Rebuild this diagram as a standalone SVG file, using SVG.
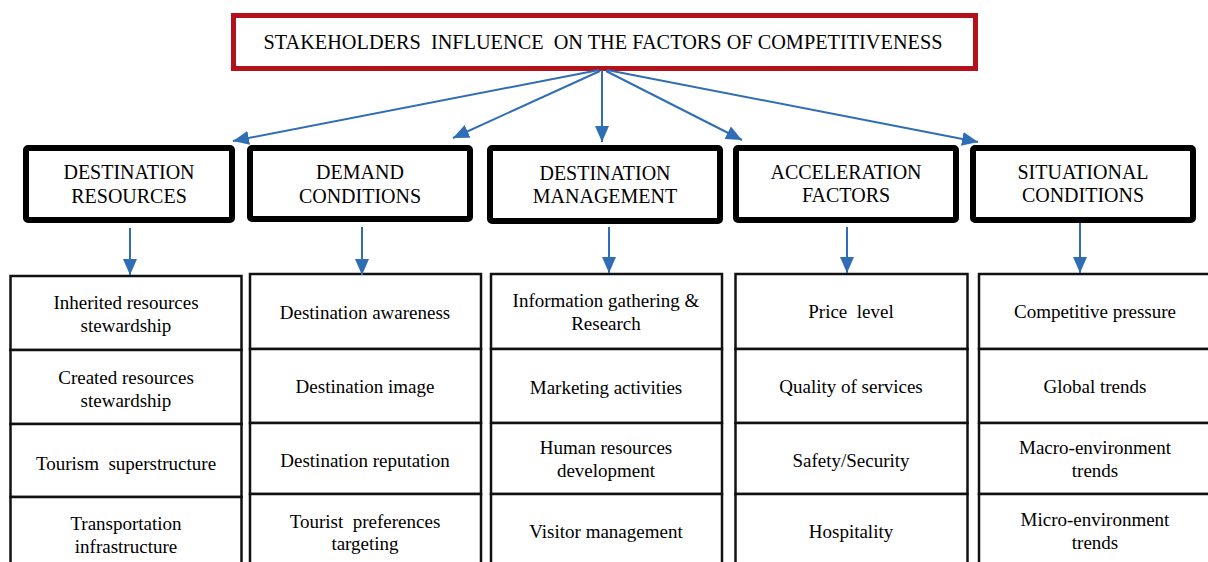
<svg xmlns="http://www.w3.org/2000/svg" width="1208" height="562" viewBox="0 0 1208 562" font-family="'Liberation Serif', 'DejaVu Serif', serif">
  <defs>
    <marker id="head" markerUnits="userSpaceOnUse" markerWidth="16" markerHeight="16" viewBox="0 0 16 16" refX="16" refY="8" orient="auto">
      <path d="M0,1 L16,8 L0,15 Z" fill="#2f6db5"/>
    </marker>
    <style>
      .title { fill: #fff; stroke: #b3121a; stroke-width: 5; }
      .hdr { fill: #fff; stroke: #000; stroke-width: 6; }
      .cell { fill: #fff; stroke: #111; stroke-width: 2.5; }
      .link { fill: none; stroke: #2f6db5; stroke-width: 2; marker-end: url(#head); }
      text { font-family: 'Liberation Serif', 'DejaVu Serif', serif; fill: #000; text-anchor: middle; }
      .t0 { font-size: 20px; }
      .th { font-size: 20px; }
      .tc { font-size: 19px; }
    </style>
  </defs>
  <rect width="1208" height="562" fill="#fff"/>

  <!-- root -->
  <g id="root">
    <rect class="title" x="233.5" y="15.5" width="742" height="53"/>
    <text class="t0" x="603" y="49" textLength="679" lengthAdjust="spacingAndGlyphs" xml:space="preserve">STAKEHOLDERS  INFLUENCE  ON THE FACTORS OF COMPETITIVENESS</text>
  </g>

  <!-- category headers -->
  <g id="hdr-resources">
    <rect class="hdr" x="26" y="148" width="206" height="72" rx="2"/>
    <text class="th" x="129" y="179">DESTINATION</text>
    <text class="th" x="129" y="203">RESOURCES</text>
  </g>
  <g id="hdr-demand">
    <rect class="hdr" x="250" y="148" width="220" height="71" rx="2"/>
    <text class="th" x="360" y="179">DEMAND</text>
    <text class="th" x="360" y="203">CONDITIONS</text>
  </g>
  <g id="hdr-management">
    <rect class="hdr" x="490" y="148" width="230" height="73" rx="2"/>
    <text class="th" x="605" y="180">DESTINATION</text>
    <text class="th" x="605" y="203">MANAGEMENT</text>
  </g>
  <g id="hdr-acceleration">
    <rect class="hdr" x="736" y="148" width="220" height="72" rx="2"/>
    <text class="th" x="846" y="179">ACCELERATION</text>
    <text class="th" x="846" y="202">FACTORS</text>
  </g>
  <g id="hdr-situational">
    <rect class="hdr" x="973" y="148" width="220" height="72" rx="2"/>
    <text class="th" x="1083" y="179">SITUATIONAL</text>
    <text class="th" x="1083" y="202">CONDITIONS</text>
  </g>

  <!-- column 1 -->
  <g id="c1-inherited">
    <rect class="cell" x="10.5" y="276" width="231" height="74"/>
    <text class="tc" x="126" y="309">Inherited resources</text>
    <text class="tc" x="126" y="332">stewardship</text>
  </g>
  <g id="c1-created">
    <rect class="cell" x="10.5" y="350" width="231" height="74"/>
    <text class="tc" x="126" y="384">Created resources</text>
    <text class="tc" x="126" y="407">stewardship</text>
  </g>
  <g id="c1-superstructure">
    <rect class="cell" x="10.5" y="424" width="231" height="73"/>
    <text class="tc" x="126" y="470" xml:space="preserve">Tourism  superstructure</text>
  </g>
  <g id="c1-transport">
    <rect class="cell" x="10.5" y="497" width="231" height="74"/>
    <text class="tc" x="126" y="530">Transportation</text>
    <text class="tc" x="126" y="553">infrastructure</text>
  </g>

  <!-- column 2 -->
  <g id="c2-awareness">
    <rect class="cell" x="250" y="274" width="231" height="75"/>
    <text class="tc" x="365" y="319">Destination awareness</text>
  </g>
  <g id="c2-image">
    <rect class="cell" x="250" y="349" width="231" height="74"/>
    <text class="tc" x="365" y="393">Destination image</text>
  </g>
  <g id="c2-reputation">
    <rect class="cell" x="250" y="423" width="231" height="71"/>
    <text class="tc" x="365" y="467">Destination reputation</text>
  </g>
  <g id="c2-preferences">
    <rect class="cell" x="250" y="494" width="231" height="77"/>
    <text class="tc" x="365" y="528" xml:space="preserve">Tourist  preferences</text>
    <text class="tc" x="365" y="550">targeting</text>
  </g>

  <!-- column 3 -->
  <g id="c3-research">
    <rect class="cell" x="491" y="274" width="231" height="75"/>
    <text class="tc" x="606" y="307">Information gathering &amp;</text>
    <text class="tc" x="606" y="330">Research</text>
  </g>
  <g id="c3-marketing">
    <rect class="cell" x="491" y="349" width="231" height="74"/>
    <text class="tc" x="606" y="394">Marketing activities</text>
  </g>
  <g id="c3-hr">
    <rect class="cell" x="491" y="423" width="231" height="71"/>
    <text class="tc" x="606" y="454">Human resources</text>
    <text class="tc" x="606" y="477">development</text>
  </g>
  <g id="c3-visitor">
    <rect class="cell" x="491" y="494" width="231" height="77"/>
    <text class="tc" x="606" y="538">Visitor management</text>
  </g>

  <!-- column 4 -->
  <g id="c4-price">
    <rect class="cell" x="735.5" y="274" width="232" height="75"/>
    <text class="tc" x="851" y="318" xml:space="preserve">Price  level</text>
  </g>
  <g id="c4-quality">
    <rect class="cell" x="735.5" y="349" width="232" height="74"/>
    <text class="tc" x="851" y="393">Quality of services</text>
  </g>
  <g id="c4-safety">
    <rect class="cell" x="735.5" y="423" width="232" height="71"/>
    <text class="tc" x="851" y="467">Safety/Security</text>
  </g>
  <g id="c4-hospitality">
    <rect class="cell" x="735.5" y="494" width="232" height="77"/>
    <text class="tc" x="851" y="538">Hospitality</text>
  </g>

  <!-- column 5 -->
  <g id="c5-pressure">
    <rect class="cell" x="979" y="274" width="236" height="75"/>
    <text class="tc" x="1095" y="318">Competitive pressure</text>
  </g>
  <g id="c5-global">
    <rect class="cell" x="979" y="349" width="236" height="74"/>
    <text class="tc" x="1095" y="393">Global trends</text>
  </g>
  <g id="c5-macro">
    <rect class="cell" x="979" y="423" width="236" height="71"/>
    <text class="tc" x="1095" y="454">Macro-environment</text>
    <text class="tc" x="1095" y="477">trends</text>
  </g>
  <g id="c5-micro">
    <rect class="cell" x="979" y="494" width="236" height="77"/>
    <text class="tc" x="1095" y="526">Micro-environment</text>
    <text class="tc" x="1095" y="549">trends</text>
  </g>

  <!-- connectors -->
  <g id="connectors">
    <line class="link" x1="599" y1="70" x2="233" y2="141"/>
    <line class="link" x1="600" y1="71" x2="453" y2="138"/>
    <line class="link" x1="602" y1="70" x2="602" y2="142"/>
    <line class="link" x1="606" y1="71" x2="742" y2="140"/>
    <line class="link" x1="607" y1="70" x2="978" y2="142"/>
    <line class="link" x1="130" y1="228" x2="130" y2="275"/>
    <line class="link" x1="362" y1="227" x2="362" y2="275"/>
    <line class="link" x1="609" y1="227" x2="609" y2="273"/>
    <line class="link" x1="847" y1="227" x2="847" y2="273"/>
    <line class="link" x1="1080" y1="223" x2="1080" y2="273"/>
  </g>
</svg>
